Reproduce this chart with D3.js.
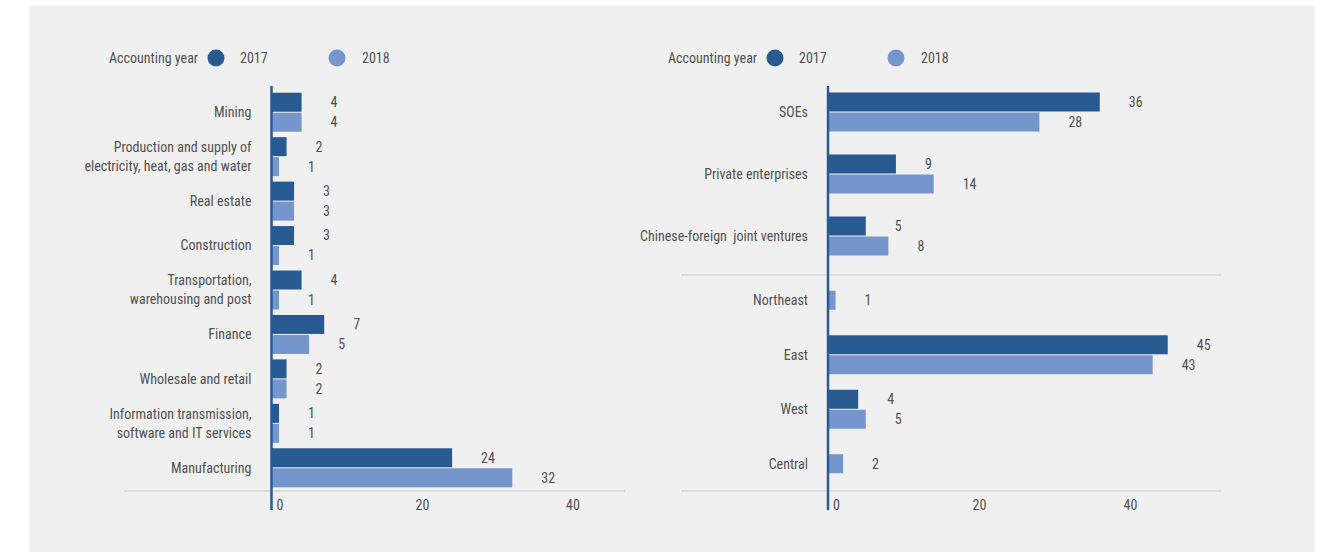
<!DOCTYPE html>
<html>
<head>
<meta charset="utf-8">
<script src="https://d3js.org/d3.v7.min.js"></script>
<title>Accounting year bars</title>
<style>
  body { margin: 0; background: #ffffff; }
  svg text { font-family: "Liberation Sans Narrow", "Arial Narrow", "Roboto Condensed", sans-serif; fill: #505050; white-space: pre; }
</style>
</head>
<body>
<svg id="chart" width="1329" height="552"></svg>
<script>
// data
var years = ["2017", "2018"];
var colors = ["#285a92", "#7496cc"];

var industries = [
  ["Mining"],
  ["Production and supply of", "electricity, heat, gas and water"],
  ["Real estate"],
  ["Construction"],
  ["Transportation,", "warehousing and post"],
  ["Finance"],
  ["Wholesale and retail"],
  ["Information transmission,", "software and IT services"],
  ["Manufacturing"]
];
var industry2017 = [4, 2, 3, 3, 4, 7, 2, 1, 24];
var industry2018 = [4, 1, 3, 1, 1, 5, 2, 1, 32];

var ownership = [["SOEs"], ["Private enterprises"], ["Chinese-foreign  joint ventures"]];
var ownership2017 = [36, 9, 5];
var ownership2018 = [28, 14, 8];

var regions = [["Northeast"], ["East"], ["West"], ["Central"]];
var region2017 = [null, 45, 4, null];
var region2018 = [1, 43, 5, 2];

var tickValues = [0, 20, 40];

var svg = d3.select("#chart");

svg.append("rect")
  .attr("x", 29).attr("y", 6)
  .attr("width", 1286).attr("height", 546)
  .attr("fill", "#f0f0f0");

var barH = 19;

function legend(x) {
  var g = svg.append("g").attr("transform", "translate(" + x + ",58)");
  g.append("text").attr("x", 0).attr("dy", "0.35em").attr("font-size", 14).text("Accounting year");
  g.append("circle").attr("cx", 107).attr("r", 8.5).attr("fill", colors[0]);
  g.append("text").attr("x", 131).attr("dy", "0.35em").attr("font-size", 14).text(years[0]);
  g.append("circle").attr("cx", 228).attr("r", 8.5).attr("fill", colors[1]);
  g.append("text").attr("x", 253).attr("dy", "0.35em").attr("font-size", 14).text(years[1]);
}

// one block of grouped bars
function block(x, y, labels, v17, v18) {
  var rows = labels.map(function(l, i) { return { label: l, vals: [v17[i], v18[i]] }; });
  var g = svg.append("g");
  rows.forEach(function(r, i) {
    var cy = y(i) + y.bandwidth() / 2;
    var present = [0, 1].filter(function(k) { return r.vals[k] != null; });
    present.forEach(function(k, j) {
      var top = present.length == 1 ? cy - barH / 2 : (j == 0 ? cy - barH - 0.5 : cy + 0.5);
      g.append("rect")
        .attr("x", x(0))
        .attr("y", top)
        .attr("width", x(r.vals[k]) - x(0))
        .attr("height", barH)
        .attr("fill", colors[k]);
      g.append("text")
        .attr("x", x(r.vals[k]) + 29)
        .attr("y", top + barH / 2)
        .attr("dy", "0.35em")
        .attr("font-size", 14)
        .text(r.vals[k]);
    });
    var t = g.append("text")
      .attr("text-anchor", "end")
      .attr("x", x(0) - 20)
      .attr("y", cy)
      .attr("font-size", 14);
    r.label.forEach(function(line, n) {
      t.append("tspan")
        .attr("x", x(0) - 20)
        .attr("dy", n == 0 ? (0.35 - (r.label.length - 1) * 0.68) + "em" : "1.36em")
        .text(line);
    });
  });
}

function axisPart(x, lineFrom, lineTo) {
  svg.append("line")
    .attr("x1", lineFrom).attr("x2", lineTo)
    .attr("y1", 491).attr("y2", 491)
    .attr("stroke", "#c8c8c8").attr("stroke-width", 1.2);
  var ax = svg.append("g")
    .attr("transform", "translate(0,491)")
    .call(d3.axisBottom(x).tickValues(tickValues).tickSize(0).tickPadding(9));
  ax.select(".domain").remove();
  ax.selectAll("text").attr("font-size", 14).attr("fill", "#505050").style("font-family", null);
  ax.selectAll(".tick").filter(function(d) { return d == 0; }).select("text").attr("dx", 8);
}

function vline(x) {
  svg.append("line")
    .attr("x1", x(0)).attr("x2", x(0))
    .attr("y1", 86).attr("y2", 510)
    .attr("stroke", "#2a5a94").attr("stroke-width", 2.5);
}

// left chart
var xL = d3.scaleLinear().domain([0, 40]).range([271.5, 572.5]);
var yL = d3.scaleBand().domain(d3.range(industries.length)).range([90, 490]);
legend(109);
block(xL, yL, industries, industry2017, industry2018);
axisPart(xL, 124, 625);
vline(xL);

// right chart
var xR = d3.scaleLinear().domain([0, 40]).range([828, 1130]);
var yR1 = d3.scaleBand().domain(d3.range(ownership.length)).range([81, 267]);
var yR2 = d3.scaleBand().domain(d3.range(regions.length)).range([273, 491]);
legend(668);
block(xR, yR1, ownership, ownership2017, ownership2018);
block(xR, yR2, regions, region2017, region2018);
svg.append("line")
  .attr("x1", 681).attr("x2", 1221)
  .attr("y1", 275).attr("y2", 275)
  .attr("stroke", "#c8c8c8").attr("stroke-width", 1.2);
axisPart(xR, 681, 1221);
vline(xR);
</script>
</body>
</html>
